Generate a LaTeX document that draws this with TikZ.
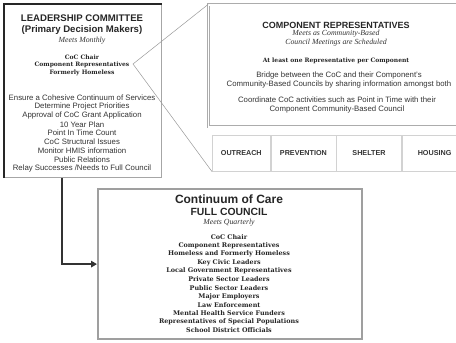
\documentclass[tikz,border=0pt]{standalone}
\usepackage{fontspec}
\setmainfont{Liberation Sans}
\newfontfamily\slabfont{DejaVu Serif}
\newfontfamily\timesfont{Liberation Serif}
\usetikzlibrary{positioning,arrows.meta}

\tikzset{
  frame/.style={draw=gray!70, line width=1pt, inner sep=0pt},
  titletext/.style={font=\fontsize{9.6}{10}\selectfont\bfseries, text=black!85},
  meetstext/.style={font=\timesfont\fontsize{7.8}{8}\selectfont\itshape, text=black!80},
  membertext/.style={font=\slabfont\fontsize{6}{7}\selectfont\bfseries, text=black!85},
  dutytext/.style={font=\fontsize{7.8}{8}\selectfont, text=black!80},
  compbox/.style={draw=gray!35, line width=0.6pt, minimum height=36pt, inner sep=0pt,
    font=\fontsize{7.2}{8}\selectfont\bfseries, text=black!80},
  zoomline/.style={gray!80, line width=0.5pt},
  flow/.style={black!80, line width=2pt, -{Triangle[length=6pt,width=6.5pt]}}
}

\begin{document}
\begin{tikzpicture}[x=1pt,y=-1pt]
\useasboundingbox (0,0) rectangle (456,343);
\clip (0,0) rectangle (456,343);

% Leadership committee
\node[frame, minimum width=157pt, minimum height=173pt, anchor=north west] (lead) at (4,4) {};
\draw[black!85, line width=1.2pt] (lead.south west) -- (lead.north west) -- (lead.north east);
\node[titletext] (leadtitle) at (82,18) {LEADERSHIP COMMITTEE};
\node[titletext] (leadsub) at (82,30) {(Primary Decision Makers)};
\node[meetstext] (leadmeets) at (82,41) {Meets Monthly};
\node[membertext] (leadchair) at (82,57) {CoC Chair};
\node[membertext] (leadreps) at (82,65) {Component Representatives};
\node[membertext] (leadhome) at (82,73) {Formerly Homeless};
\foreach \t [count=\i] in {Ensure a Cohesive Continuum of Services, Determine Project Priorities,
    Approval of CoC Grant Application, 10 Year Plan, Point In Time Count, CoC Structural Issues,
    Monitor HMIS information, Public Relations, Relay Successes /Needs to Full Council}
  \node[dutytext] (duty\i) at (82,89.25+8.75*\i) {\t};

% Component representatives
\node[draw=gray!65, line width=0.6pt, double=white, double distance=1.6pt,
  minimum width=260pt, minimum height=122pt, anchor=north west] (reps) at (208,4.5) {};
\node[titletext, font=\fontsize{9}{10}\selectfont\bfseries] (repstitle) at (336,25) {COMPONENT REPRESENTATIVES};
\node[meetstext] (repsmeets1) at (336,34) {Meets as Community-Based};
\node[meetstext] (repsmeets2) at (336,43) {Council Meetings are Scheduled};
\node[membertext] (repsleast) at (336,61) {At least one Representative per Component};
\node[dutytext] (bridge1) at (339,75) {Bridge between the CoC and their Component's};
\node[dutytext] (bridge2) at (339,84) {Community-Based Councils by sharing information amongst both};
\node[dutytext] (coord1) at (337,100) {Coordinate CoC activities such as Point in Time with their};
\node[dutytext] (coord2) at (337,109) {Component Community-Based Council};

% Components
\node[compbox, minimum width=58pt, anchor=north west] (outreach) at (212,135) {OUTREACH};
\node[compbox, minimum width=65pt, right=0pt of outreach] (prevention) {PREVENTION};
\node[compbox, minimum width=65pt, right=0pt of prevention] (shelter) {SHELTER};
\node[compbox, minimum width=65pt, right=0pt of shelter] (housing) {HOUSING};

% Zoom lines
\coordinate (zoomtip) at (133,64);
\draw[zoomline] (reps.north west) -- (zoomtip) -- (outreach.south west);

% Full council
\node[draw=gray!75, line width=2.2pt, minimum width=264pt, minimum height=150pt,
  anchor=north west] (council) at (97,188) {};
\node[font=\fontsize{12}{13}\selectfont\bfseries, text=black!85] (counciltitle) at (229,199) {Continuum of Care};
\node[font=\fontsize{10.4}{11}\selectfont\bfseries, text=black!85] (councilsub) at (229,212) {FULL COUNCIL};
\node[meetstext] (councilmeets) at (229,223) {Meets Quarterly};
\foreach \t [count=\i] in {CoC Chair, Component Representatives, Homeless and Formerly Homeless,
    Key Civic Leaders, Local Government Representatives, Private Sector Leaders,
    Public Sector Leaders, Major Employers, Law Enforcement, Mental Health Service Funders,
    Representatives of Special Populations, School District Officials}
  \node[membertext, font=\slabfont\fontsize{6.4}{7}\selectfont\bfseries] (member\i) at (229,228.5+8.5*\i) {\t};

% Leadership reports to full council
\draw[flow] ([xshift=58pt]lead.south west) |- (council.west);

\end{tikzpicture}
\end{document}
